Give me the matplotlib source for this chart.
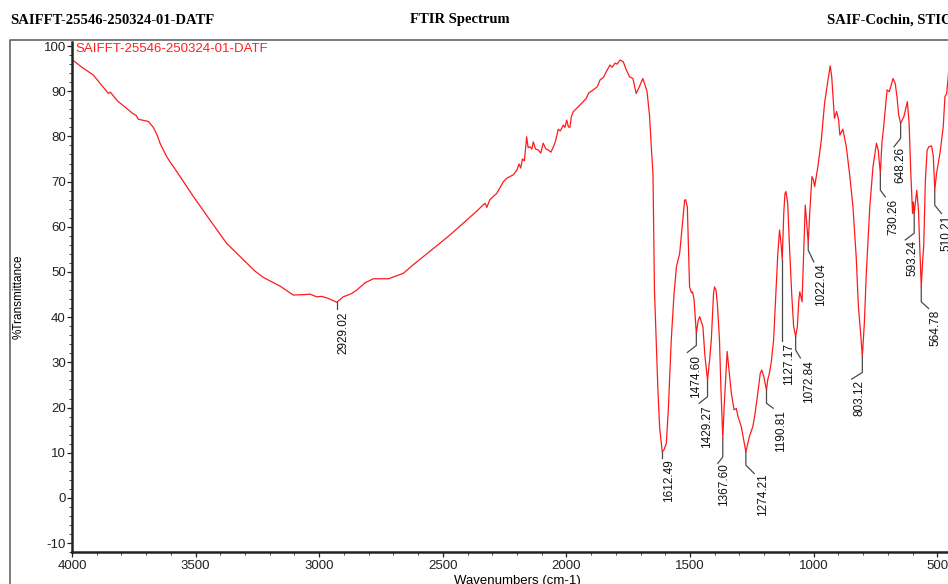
import matplotlib
matplotlib.use("Agg")
import matplotlib.pyplot as plt
from matplotlib.lines import Line2D
from matplotlib.transforms import offset_copy
from matplotlib.ticker import MultipleLocator
import numpy as np

# ---------------- data ----------------
wavenumber = [
    4000, 3960, 3914, 3880, 3853, 3845, 3815, 3779, 3755, 3740, 3732, 3715, 3691, 3671,
    3655, 3644, 3617, 3600, 3576, 3509, 3442, 3374, 3307, 3260, 3226, 3159, 3105, 3060,
    3037, 3010, 2990, 2965, 2929.02, 2903, 2870, 2848, 2815, 2781, 2720, 2660, 2620, 2579,
    2520, 2471, 2403, 2360, 2340, 2329, 2322, 2310, 2282, 2255, 2240, 2215, 2200, 2192,
    2185, 2178, 2170, 2161, 2155, 2147, 2140, 2134, 2125, 2114, 2104, 2094, 2083, 2073,
    2063, 2053, 2045, 2033, 2025, 2013, 2006, 1999, 1992, 1986, 1980, 1972, 1955, 1932,
    1920, 1910, 1891, 1875, 1864, 1850, 1837, 1824, 1815, 1804, 1795, 1783, 1770, 1760,
    1745, 1731, 1718, 1705, 1691, 1680, 1674, 1664, 1656, 1650, 1644, 1630, 1623, 1612.49,
    1605, 1596, 1588, 1576, 1565, 1555, 1542, 1532, 1522, 1518, 1511, 1502, 1494, 1490,
    1484, 1474.60, 1467, 1461, 1448, 1440, 1429.27, 1421, 1414, 1405, 1401, 1395, 1389,
    1381, 1375, 1367.60, 1362, 1350, 1341, 1333, 1322, 1313, 1306, 1293, 1283, 1274.21,
    1260, 1246, 1237, 1226, 1216, 1210, 1202, 1190.81, 1186, 1179, 1172, 1162, 1154, 1145,
    1138, 1132, 1127.17, 1121, 1116, 1112, 1105, 1099, 1089, 1081, 1072.84, 1066, 1060,
    1056, 1047, 1041, 1034, 1029, 1022.04, 1016, 1007, 1001, 996, 983, 969, 956, 942, 933,
    927, 916, 907, 899, 894, 882, 868, 855, 841, 828, 819, 810, 803.12, 795, 787, 773, 760,
    746, 739, 730.26, 724, 717, 703, 694, 679, 670, 663, 656, 648.26, 635, 621, 614, 607,
    600, 597, 593.24, 583, 576, 571, 564.78, 559, 555, 548, 541, 534, 523, 516, 510.21,
    503, 489, 476, 469, 462, 456, 450,
]
transmittance = [
    97.0, 95.3, 93.6, 91.3, 89.5, 89.8, 87.8, 86.2, 85.1, 84.6, 83.8, 83.6, 83.3, 82.0,
    80.2, 78.5, 75.5, 74.1, 72.2, 66.7, 61.5, 56.3, 52.7, 50.2, 48.8, 46.9, 44.9, 45.0,
    45.1, 44.5, 44.6, 44.2, 43.3, 44.5, 45.2, 46.0, 47.6, 48.5, 48.5, 49.7, 51.6, 53.4,
    56.0, 58.2, 61.5, 63.6, 64.7, 65.2, 64.3, 66.0, 67.4, 70.0, 70.8, 71.5, 72.6, 73.9,
    73.0, 75.0, 74.6, 79.9, 77.5, 77.7, 77.2, 78.8, 77.2, 77.0, 76.3, 78.5, 77.2, 77.0,
    76.5, 77.7, 78.8, 81.6, 81.2, 82.5, 82.0, 83.6, 82.1, 82.0, 84.4, 85.5, 86.4, 87.7,
    88.4, 89.6, 90.3, 91.0, 92.5, 93.1, 94.5, 95.8, 95.3, 96.2, 96.0, 96.9, 96.5, 95.0,
    93.2, 92.8, 89.5, 91.0, 92.8, 91.0, 89.9, 84.7, 77.0, 71.8, 46.0, 23.9, 15.5, 10.2,
    10.7, 12.1, 19.5, 35.0, 45.0, 51.2, 54.1, 60.0, 65.9, 66.0, 64.4, 46.7, 45.4, 45.6,
    44.0, 36.4, 39.3, 40.1, 37.9, 31.5, 26.1, 30.5, 35.0, 45.3, 46.7, 46.0, 42.5,
    35.0, 24.0, 13.2, 20.3, 32.4, 27.6, 23.2, 19.5, 19.8, 18.0, 15.8, 12.8, 10.2,
    13.6, 15.8, 18.7, 23.2, 27.6, 28.3, 26.9, 23.9, 26.1, 27.6, 29.8, 35.0, 43.8, 54.1,
    59.3, 56.3, 52.7, 63.0, 67.4, 67.8, 65.2, 57.1, 45.3, 37.9, 35.7, 37.9, 43.8,
    45.6, 43.4, 53.4, 64.8, 61.5, 56.3, 63.0, 71.1, 70.4, 68.9, 73.3, 79.2, 87.3, 92.5, 95.6,
    93.2, 84.0, 85.5, 83.6, 80.3, 81.6, 77.7, 71.8, 64.4, 53.4, 42.3, 36.4, 31.3, 38.7, 49.7, 64.4, 73.3,
    78.5, 77.0, 71.8, 78.5, 82.1, 90.3, 89.9, 92.8, 91.7, 88.8, 84.7, 82.9, 84.4, 87.7, 82.9, 71.8,
    63.0, 65.5, 63.0, 68.1, 63.7, 55.6, 46.7, 52.6, 55.6, 70.4, 77.0, 77.7, 77.9, 75.6, 68.1,
    71.8, 76.3, 82.1, 88.8, 89.5, 93.0, 97.5,
]

peak_labels = ["2929.02", "1612.49", "1474.60", "1429.27", "1367.60", "1274.21", "1190.81",
               "1127.17", "1072.84", "1022.04", "803.12", "730.26", "648.26", "593.24",
               "564.78", "510.21"]

x_ticks = [4000, 3500, 3000, 2500, 2000, 1500, 1000, 500]
y_ticks = [-10, 0, 10, 20, 30, 40, 50, 60, 70, 80, 90, 100]

sample_name = "SAIFFT-25546-250324-01-DATF"
header_center = "FTIR Spectrum"
header_right = "SAIF-Cochin, STIC"

# leader-line layout (pixels): vertical drop, diagonal dx, dy, text dx, text top dy
label_layout = {
    "2929.02": (7, 0, 0, 6.5, 9),
    "1612.49": (6, 0, 0, 7, 7),
    "1474.60": (12, -9, 7, 0, 22),
    "1429.27": (16.7, -8.4, 6.6, 0, 25),
    "1367.60": (18.7, -5, 6.3, 1.5, 25),
    "1274.21": (13.3, 8.3, 8.3, 16.7, 21.3),
    "1190.81": (13.3, 6.7, 5, 15, 20),
    "1127.17": (81.7, 0, 0, 7.3, 83),
    "1072.84": (13.3, 4.7, 8, 13.2, 23.3),
    "1022.04": (6.7, 5.6, 11.7, 13.3, 19.7),
    "803.12": (16, -10.7, 6.6, -2.4, 23.3),
    "730.26": (16.7, 5, 6.7, 13.4, 25.7),
    "648.26": (15, -6.6, 8.4, 0, 24),
    "593.24": (20, -9, 6.7, -1.6, 26.7),
    "564.78": (15, 7.4, 6.6, 14, 23.3),
    "510.21": (15, 6.7, 8.3, 11.7, 25),
}

# ---------------- figure ----------------
W, H = 948, 584
plt.rcParams['font.family'] = ['Liberation Sans', 'DejaVu Sans']
plt.rcParams['axes.unicode_minus'] = False
fig = plt.figure(figsize=(W / 100, H / 100), dpi=100)

ax_left, ax_right = 72 / W, 962 / W
ax_bottom, ax_top = 1 - 552.2 / H, 1 - 41.5 / H
ax = fig.add_axes([ax_left, ax_bottom, ax_right - ax_left, ax_top - ax_bottom])
ax.set_xlim(4000, 400)
ax.set_ylim(-12, 101)

ax.plot(wavenumber, transmittance, color='#ff1a1a', lw=0.9)

for s in ['top', 'right']:
    ax.spines[s].set_visible(False)
for s in ['left', 'bottom']:
    ax.spines[s].set_linewidth(1.8)
    ax.spines[s].set_color('#222222')

ax.set_xticks(x_ticks)
ax.set_yticks(y_ticks)
ax.xaxis.set_minor_locator(MultipleLocator(100))
ax.yaxis.set_minor_locator(MultipleLocator(2))
ax.tick_params(axis='both', which='major', direction='out', length=3.5, width=0.9,
               labelsize=9.5, colors='#222222')
ax.tick_params(axis='both', which='minor', direction='out', length=2, width=0.7, colors='#444444')
ax.tick_params(axis='x', pad=2)
ax.tick_params(axis='y', pad=1)

ax.set_xlabel("Wavenumbers (cm-1)", fontsize=9.5, labelpad=2)
ax.set_ylabel("%Transmittance", fontsize=8.5)
ax.yaxis.set_label_coords(-0.053, 0.5)

ax.text(3988, 99.4, sample_name, color='#ff2020', fontsize=9.5, ha='left', va='center')

# peak labels
wn_arr = np.array(wavenumber)
tr_arr = np.array(transmittance)
for lab in peak_labels:
    wn = float(lab)
    t = tr_arr[np.argmin(np.abs(wn_arr - wn))]
    drop, ddx, ddy, tdx, tdy = label_layout[lab]
    p0 = ax.transData.transform((wn, t))
    xs = [p0[0], p0[0], p0[0] + ddx]
    ys = [p0[1], p0[1] - drop, p0[1] - drop - ddy]
    ax.add_line(Line2D(xs, ys, transform=None, color='#4a4a4a', lw=0.9, clip_on=False))
    tr = offset_copy(ax.transData, fig=fig, x=tdx, y=-tdy, units='dots')
    ax.text(wn, t, lab, transform=tr, rotation=90, ha='center', va='top',
            fontsize=8.5, color='#111111')

# header texts
serif = ['Liberation Serif', 'DejaVu Serif']
fig.text(10 / W, 1 - 20 / H, sample_name, family=serif, fontweight='bold', fontsize=10.5,
         ha='left', va='center')
fig.text(460 / W, 1 - 20 / H, header_center, family=serif, fontweight='bold', fontsize=10.5,
         ha='center', va='center')
fig.text(826.7 / W, 1 - 20 / H, header_right, family=serif, fontweight='bold', fontsize=10.5,
         ha='left', va='center')

# outer frame
fig.add_artist(Line2D([9.5 / W, 9.5 / W, 1.02], [-0.02, 1 - 40 / H, 1 - 40 / H],
                      transform=fig.transFigure, color='#666666', lw=1.2))

fig.savefig("out.png", dpi=100)
